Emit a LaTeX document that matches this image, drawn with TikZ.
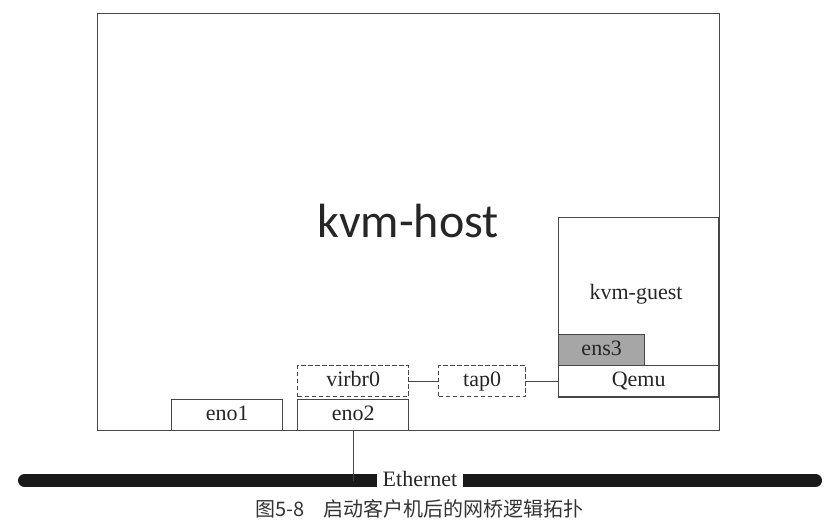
\documentclass[tikz,border=0pt]{standalone}
\usepackage{fontspec}
\setmainfont{Liberation Serif}
\newfontfamily\hostfont{Carlito}
\newfontfamily\cjkfont{Noto Sans CJK SC}
\begin{document}
\begin{tikzpicture}[x=1pt,y=-1pt,
  line/.style={draw=black!72,line width=1.3pt},
  lbl/.style={font=\fontsize{22}{24}\selectfont,text height=14.5pt,text depth=4.5pt,text=black!85},
  ifbox/.style={line,lbl,fill=white,inner sep=0pt},
  dbox/.style={ifbox,dash pattern=on 4.5pt off 2.5pt}]
\useasboundingbox (0,0) rectangle (834,530);
% host
\node[line,inner sep=0pt,minimum width=622pt,minimum height=417pt,anchor=north west] (host) at (96.5,13) {};
\node[font=\hostfont\fontsize{48}{50}\selectfont,anchor=base,text=black!85] (hostlbl) at (408,237) {kvm-host};
% guest
\node[line,inner sep=0pt,minimum width=160pt,minimum height=180pt,anchor=north west] (guest) at (558,216.5) {};
\node[lbl] (guestlbl) at (636,294) {kvm-guest};
\node[ifbox,fill=black!35,minimum width=86pt,minimum height=31pt,anchor=north west] (ens3) at (558,334) {ens3};
\node[ifbox,minimum width=160pt,minimum height=31pt,anchor=north west] (qemu) at (558,365) {Qemu};
% interfaces
\node[ifbox,minimum width=111pt,minimum height=31pt,anchor=north west] (eno1) at (171,399) {eno1};
\node[ifbox,minimum width=111pt,minimum height=31pt,anchor=north west] (eno2) at (297,399) {eno2};
\node[dbox,minimum width=111pt,minimum height=31pt,anchor=north west] (virbr0) at (297,365) {virbr0};
\node[dbox,minimum width=87pt,minimum height=31pt,anchor=north west] (tap0) at (438,365) {tap0};
\draw[line] (virbr0.east) -- (tap0.west);
\draw[line] (tap0.east) -- (qemu.west);
% ethernet
\coordinate (ethL) at (24.5,480.5);
\coordinate (ethR) at (815.5,480.5);
\draw[line width=13pt,line cap=round,black!90] (ethL) -- (ethR);
\node[lbl,fill=white,inner sep=0pt,minimum width=86pt,minimum height=16pt,text height=13pt,text depth=2pt] (eth) at (420,480.5) {Ethernet};
\draw[line] (eno2.south) -- (eno2.south |- ethL);
% caption
\node[font=\cjkfont\fontsize{20}{22}\selectfont,anchor=west,text=black!80] (cap) at (252,509) {图5-8\hspace{19pt}启动客户机后的网桥逻辑拓扑};
\end{tikzpicture}
\end{document}
